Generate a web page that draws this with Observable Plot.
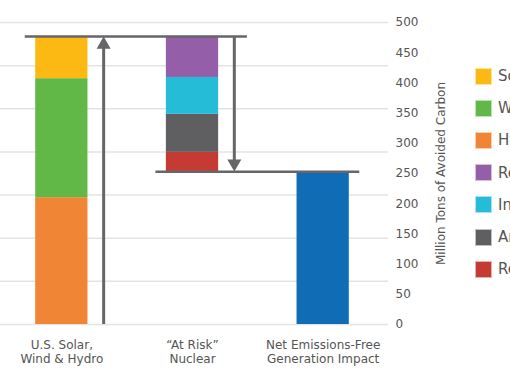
<!DOCTYPE html>
<html>
<head>
<meta charset="utf-8">
<script src="https://cdn.jsdelivr.net/npm/d3@7"></script>
<script src="https://cdn.jsdelivr.net/npm/@observablehq/plot@0.6"></script>
<style>
  html, body { margin: 0; padding: 0; background: #fff; overflow: hidden; width: 510px; height: 382px; }
  #wrap { position: relative; width: 510px; height: 382px; font-family: "DejaVu Sans", sans-serif; }
  #chart { position: absolute; left: 0; top: 0; }
  #legend { position: absolute; left: 475px; top: 60px; white-space: nowrap; }
  .item { display: flex; align-items: center; height: 32.2px; }
  .sw { width: 17px; height: 17px; border: 0.5px solid rgba(255,255,255,0.6); box-sizing: border-box; margin-right: 6px; flex: none; }
  .lb { font-size: 15px; color: #555; }
</style>
</head>
<body>
<div id="wrap">
  <div id="chart"></div>
  <div id="legend"></div>
</div>
<script>
// Categories (x axis)
const categories = ["U.S. Solar,\nWind & Hydro", "\u201CAt Risk\u201D\nNuclear", "Net Emissions-Free\nGeneration Impact"];

// Renewable stack (bottom to top)
const renewSeries = ["Hydro", "Wind", "Solar"];
const renewValues = [210, 197, 70];
const renewColors = ["#F08536", "#62B847", "#FDB913"];

// At-risk nuclear stack (bottom to top)
const nuclearSeries = ["Retired", "Announced Retirements", "In Jeopardy", "Recently Retired"];
const nuclearValues = [32, 63, 61, 68];
const nuclearColors = ["#C53A32", "#5F5F61", "#25BCD8", "#945FA8"];

// Net bar
const netColor = "#0F6CB5";

// Legend order
const legendSeries = ["Solar", "Wind", "Hydro", "Recently Retired", "In Jeopardy", "Announced Retirements", "Retired"];
const legendColors = ["#FDB913", "#62B847", "#F08536", "#945FA8", "#25BCD8", "#5F5F61", "#C53A32"];

// Axis ticks
const yTicks = [0, 50, 100, 150, 200, 250, 300, 350, 400, 450, 500];
const gridCount = 7;

// Build data
const total = d3.sum(renewValues);
const net = total - d3.sum(nuclearValues);
const segments = [];
let acc = 0;
renewValues.forEach((v, i) => { segments.push({cat: 0, y1: acc, y2: acc + v, fill: renewColors[i], series: renewSeries[i]}); acc += v; });
acc = net;
nuclearValues.forEach((v, i) => { segments.push({cat: 1, y1: acc, y2: acc + v, fill: nuclearColors[i], series: nuclearSeries[i]}); acc += v; });
segments.push({cat: 2, y1: 0, y2: net, fill: netColor, series: "Net"});

const half = 0.2;      // half bar width in band units
const arrowOff = 0.32; // arrow offset from bar centre
const lineColor = "#666668";

const gridTicks = d3.range(gridCount + 1).map(i => i * 500 / gridCount);

const chart = Plot.plot({
  width: 468,
  height: 382,
  marginTop: 22,
  marginBottom: 58,
  marginLeft: 0,
  marginRight: 80,
  style: {fontFamily: "DejaVu Sans, sans-serif", fontSize: "12px", color: "#555", background: "transparent"},
  x: {type: "linear", domain: [0, 3], range: [-4, 388]},
  y: {domain: [0, 500]},
  marks: [
    Plot.gridY(gridTicks, {stroke: "#e4e4e4", strokeOpacity: 1, strokeWidth: 1.5}),
    Plot.axisY({anchor: "right", ticks: yTicks, tickSize: 0, tickPadding: 7, textAnchor: "start",
      label: "Million Tons of Avoided Carbon", labelAnchor: "center", labelArrow: "none", labelOffset: 56, fill: "#555"}),
    Plot.axisX({ticks: [0.5, 1.5, 2.5], tickFormat: d => categories[Math.floor(d)], tickSize: 0, tickPadding: 14,
      lineHeight: 1.2, label: null, fill: "#555"}),
    Plot.rect(segments, {x1: d => d.cat + 0.5 - half, x2: d => d.cat + 0.5 + half, y1: "y1", y2: "y2", fill: "fill"}),
    // horizontal level lines
    Plot.ruleY([{y: total, a: 0.5 - 0.28, b: 1.5 + 0.42}, {y: net, a: 1.5 - 0.28, b: 2.5 + 0.28}],
      {y: "y", x1: "a", x2: "b", stroke: lineColor, strokeWidth: 2.5}),
    // arrow shafts
    Plot.ruleX([{x: 0.5 + arrowOff, a: 0, b: total - 12}, {x: 1.5 + arrowOff, a: total, b: net + 12}],
      {x: "x", y1: "a", y2: "b", stroke: lineColor, strokeWidth: 3}),
    // arrow heads
    Plot.dot([{x: 0.5 + arrowOff, y: total}], {x: "x", y: "y", symbol: "triangle", r: 5.2, fill: lineColor, stroke: "none", dy: 8.2}),
    Plot.dot([{x: 1.5 + arrowOff, y: net}], {x: "x", y: "y", symbol: "triangle", r: 5.2, fill: lineColor, stroke: "none", rotate: 180, dy: -8.2})
  ]
});
document.getElementById("chart").appendChild(chart);

const legend = document.getElementById("legend");
legendSeries.forEach((s, i) => {
  const row = document.createElement("div");
  row.className = "item";
  const sw = document.createElement("div");
  sw.className = "sw";
  sw.style.background = legendColors[i];
  const lb = document.createElement("span");
  lb.className = "lb";
  lb.textContent = s;
  row.appendChild(sw);
  row.appendChild(lb);
  legend.appendChild(row);
});
</script>
</body>
</html>
